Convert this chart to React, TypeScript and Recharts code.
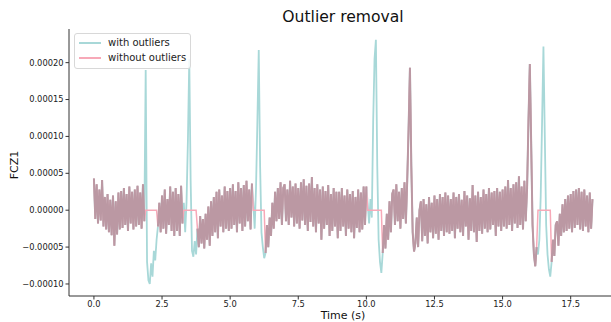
import React from 'react';
import { LineChart, Line, XAxis, YAxis, Legend } from 'recharts';

// sample spacing of the trace, seconds
const STEP = 0.05;

// FCZ1 trace in microvolts, one row per second
const withOutliersUv: number[] = [
  43, -12, 35, -18, 28, -14, 41, -22, 18, -26, 22, -30, 14, -34, 20, -48, 12, -33, 24, -26,
  26, -24, 30, -20, 22, -28, 32, -18, 25, -26, 28, -22, 33, -20, 24, -25, 35, -15, 190, -70,
  -95, -100, -72, -90, -55, -68, -40, -22, 10, -30, 20, -25, 28, -32, 15, -20, 32, -28, 25, -35,
  30, -28, 22, -35, 33, -18, 10, -30, 12, 95, 205, 40, -55, -63, -42, -60, -25, -50, -8, -45,
  -12, -52, -5, -40, 5, -48, 12, -35, 18, -30, 25, -38, 28, -22, 20, -30, 32, -25, 26, -28,
  30, -25, 35, -20, 26, -30, 38, -18, 30, -28, 34, -22, 40, -15, 28, -26, 36, 10, -25, 30,
  120, 217, 60, -30, -50, -65, -58, -20, -50, -10, -35, 10, -25, 25, -15, 30, -12, 38, -20, 30,
  35, -15, 28, -20, 40, -10, 32, -22, 36, -18, 30, -25, 38, -14, 42, -20, 33, -28, 36, -16,
  45, -22, 30, -30, 35, -18, 28, -40, 32, -25, 26, -20, 34, -35, 22, -28, 30, -22, 25, -38,
  25, -28, 30, -22, 20, -35, 28, -25, 22, -30, 26, -38, 18, -24, 28, -30, 24, -26, 32, -20,
  32, 8, -18, 15, -10, 120, 205, 231, 60, -40, -70, -85, -58, -20, -52, -5, -40, 12, -30, 22,
  28, -20, 35, -15, 25, -25, 30, -12, 38, -18, 40, 110, 193, 60, -30, -56, -45, -10, -50, 0,
  12, -42, 15, -35, 8, -45, 18, -30, 10, -38, 20, -32, 15, -40, 22, -28, 18, -35, 24, -30,
  20, -32, 15, -28, 24, -38, 18, -25, 22, -30, 14, -35, 26, -22, 20, -40, 16, -28, 34, -30,
  20, -43, 25, -28, 18, -32, 28, -25, 22, -30, 30, -26, 24, -20, 26, -35, 30, -22, 25, -28,
  28, -22, 32, -25, 41, -20, 30, -28, 35, -18, 38, -24, 46, -20, 32, -26, 40, -15, 30, 120,
  198, 90, -20, -60, -76, -50, -60, -40, 20, 120, 222, 100, -20, -60, -80, -90, -70, -40, -62, -20,
  -15, -48, -5, -35, 8, -30, 15, -28, 20, -25, 22, -30, 26, -24, 28, -20, 30, -26, 25, -28,
  28, -22, 20, -30, 24, -25, 15,
];

// time windows flagged as outliers (s), set to zero in the cleaned trace
const outlierWindows: [number, number][] = [
  [1.87, 2.33],
  [3.27, 3.77],
  [5.82, 6.27],
  [10.04, 10.58],
  [16.27, 16.78],
];

const xTicks = [0, 2.5, 5, 7.5, 10, 12.5, 15, 17.5];
const yTicks = [-0.0001, -0.00005, 0, 0.00005, 0.0001, 0.00015, 0.0002];

const TEAL = '#a8d8d8';
const PINK = '#f7a9b8';
const MAUVE = '#bb98a3';

const inOutlier = (t: number) => outlierWindows.some(([a, b]) => t >= a && t <= b);

const data = withOutliersUv.map((uv, i) => {
  const t = +(i * STEP).toFixed(2);
  const v = uv * 1e-6;
  const out = inOutlier(t);
  return { t, raw: v, clean: out ? 0 : v, overlay: out ? null : v };
});

const font = '"DejaVu Sans", sans-serif';
const fmtY = (v: number) => (v < 0 ? '\u2212' : '') + Math.abs(v).toFixed(5);

const legendColors: Record<string, string> = {
  'with outliers': TEAL,
  'without outliers': PINK,
};

const renderLegend = (props: any) => {
  const items = (props.payload || []).filter((p: any) => legendColors[p.value]);
  return (
    <div
      style={{
        display: 'inline-block',
        border: '1px solid #d8d8d8',
        borderRadius: 3,
        background: 'rgba(255,255,255,0.85)',
        padding: '1px 4px 3px 4px',
        fontFamily: font,
        fontSize: 10,
        lineHeight: '15px',
        color: '#222',
      }}
    >
      {items.map((p: any) => (
        <div key={p.value} style={{ display: 'flex', alignItems: 'center' }}>
          <div style={{ width: 22, height: 2, background: legendColors[p.value], marginRight: 7 }} />
          <span>{p.value}</span>
        </div>
      ))}
    </div>
  );
};

export default function App() {
  return (
    <div style={{ position: 'absolute', left: 0, top: 0, width: 611, height: 322, overflow: 'hidden', background: '#fff', fontFamily: font }}>
      <div style={{ position: 'absolute', left: 0, width: 686, top: 8, textAlign: 'center', fontSize: 15.6, color: '#111' }}>
        Outlier removal
      </div>
      <div style={{ position: 'absolute', left: 0, width: 686, top: 309, textAlign: 'center', fontSize: 11, color: '#111' }}>
        Time (s)
      </div>
      <div
        style={{
          position: 'absolute', left: 14, top: 165, fontSize: 11, color: '#111',
          transform: 'translate(-50%, -50%) rotate(-90deg)', whiteSpace: 'nowrap',
        }}
      >
        FCZ1
      </div>
      <LineChart width={620} height={322} data={data} margin={{ top: 29, right: 3, bottom: 0, left: 0 }}>
        <XAxis
          dataKey="t"
          type="number"
          domain={[-0.915, 19.2]}
          ticks={xTicks}
          tickFormatter={(v: number) => v.toFixed(1)}
          allowDataOverflow
          height={26}
          tickSize={3.5}
          tickMargin={2}
          stroke="#333"
          tick={{ fontSize: 8.3, fill: '#222', fontFamily: font }}
        />
        <XAxis xAxisId="top" orientation="top" type="number" domain={[-0.915, 19.2]} height={0} tick={false} tickLine={false} stroke="#333" />
        <YAxis
          type="number"
          domain={[-0.0001163, 0.0002456]}
          ticks={yTicks}
          tickFormatter={fmtY}
          allowDataOverflow
          width={69}
          tickSize={3.5}
          tickMargin={2}
          stroke="#333"
          tick={{ fontSize: 8.3, fill: '#222', fontFamily: font }}
        />
        <Legend
          content={renderLegend}
          layout="vertical"
          align="center"
          verticalAlign="middle"
          wrapperStyle={{ left: 74, top: 33, width: 'auto' }}
        />
        <Line dataKey="raw" name="with outliers" stroke={TEAL} strokeWidth={1.8} dot={false} isAnimationActive={false} />
        <Line dataKey="clean" name="without outliers" stroke={PINK} strokeWidth={1.5} dot={false} isAnimationActive={false} />
        <Line dataKey="overlay" name="overlay" legendType="none" stroke={MAUVE} strokeWidth={2} dot={false} isAnimationActive={false} />
      </LineChart>
    </div>
  );
}
